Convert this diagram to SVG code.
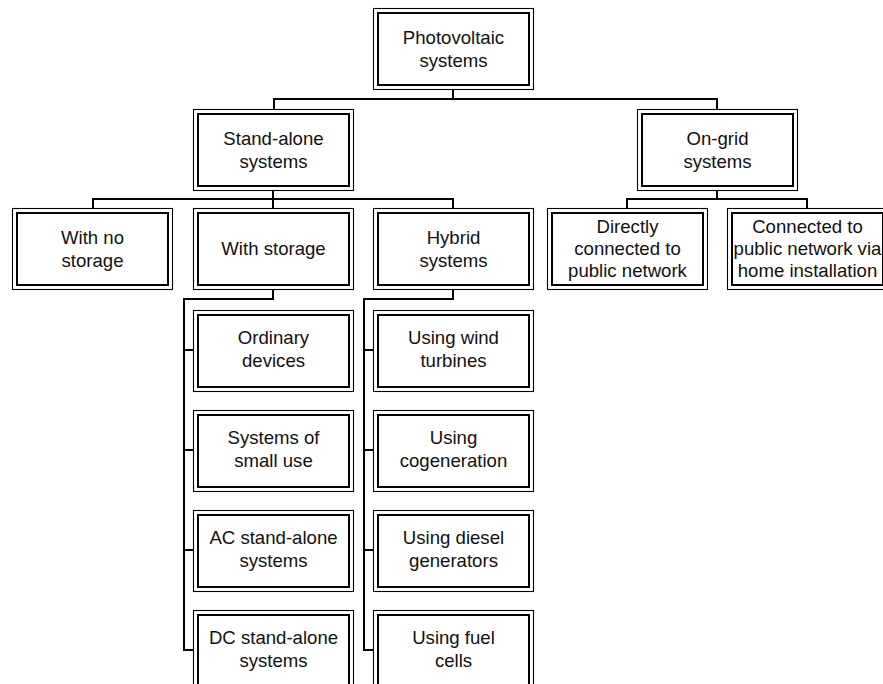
<svg xmlns="http://www.w3.org/2000/svg" width="883" height="684" viewBox="0 0 883 684">
<style>
.o{fill:#fff;stroke:#000;stroke-width:1.1}
.i{fill:none;stroke:#000;stroke-width:2}
.t{font-family:"Liberation Sans",Arial,sans-serif;font-size:18.6px;fill:#111;text-anchor:middle}
.c{fill:none;stroke:#000;stroke-width:2}
</style>
<defs>
<g id="box">
<rect class="o" x="0.5" y="0.5" width="160" height="81"/>
<rect class="i" x="5" y="5" width="151" height="72"/>
</g>
</defs>
<rect width="883" height="684" fill="#fff"/>
<g id="connectors">
<path class="c" d="M453 90V99M273 99H718M274 99V109M717 99V109"/>
<path class="c" d="M273 190V199M92 199H454M93 199V208M273 199V208M453 199V208"/>
<path class="c" d="M717 190V199M626 199H808M627 199V208M807 199V208"/>
<path class="c" d="M273 290V299H184V650H193M184 350H193M184 450H193M184 550H193"/>
<path class="c" d="M453 290V299H364V650H373M364 350H373M364 450H373M364 550H373"/>
</g>
<g id="n-root" transform="translate(373,8)"><use href="#box"/><text class="t" x="80.5" y="36">Photovoltaic</text><text class="t" x="80.5" y="59">systems</text></g>
<g id="n-standalone" transform="translate(193,109)"><use href="#box"/><text class="t" x="80.5" y="36">Stand-alone</text><text class="t" x="80.5" y="59">systems</text></g>
<g id="n-ongrid" transform="translate(637,109)"><use href="#box"/><text class="t" x="80.5" y="36">On-grid</text><text class="t" x="80.5" y="59">systems</text></g>
<g id="n-nostorage" transform="translate(12,208)"><use href="#box"/><text class="t" x="80.5" y="36">With no</text><text class="t" x="80.5" y="59">storage</text></g>
<g id="n-withstorage" transform="translate(193,208)"><use href="#box"/><text class="t" x="80.5" y="47">With storage</text></g>
<g id="n-hybrid" transform="translate(373,208)"><use href="#box"/><text class="t" x="80.5" y="36">Hybrid</text><text class="t" x="80.5" y="59">systems</text></g>
<g id="n-direct" transform="translate(547,208)"><use href="#box"/><text class="t" x="80.5" y="25">Directly</text><text class="t" x="80.5" y="47">connected to</text><text class="t" x="80.5" y="69">public network</text></g>
<g id="n-home" transform="translate(727,208)"><use href="#box"/><text class="t" x="80.5" y="25">Connected to</text><text class="t" x="80.5" y="47">public network via</text><text class="t" x="80.5" y="69">home installation</text></g>
<g id="n-ordinary" transform="translate(193,310)"><use href="#box"/><text class="t" x="80.5" y="34">Ordinary</text><text class="t" x="80.5" y="57">devices</text></g>
<g id="n-smalluse" transform="translate(193,410)"><use href="#box"/><text class="t" x="80.5" y="34">Systems of</text><text class="t" x="80.5" y="57">small use</text></g>
<g id="n-ac" transform="translate(193,510)"><use href="#box"/><text class="t" x="80.5" y="34">AC stand-alone</text><text class="t" x="80.5" y="57">systems</text></g>
<g id="n-dc" transform="translate(193,610)"><use href="#box"/><text class="t" x="80.5" y="34">DC stand-alone</text><text class="t" x="80.5" y="57">systems</text></g>
<g id="n-wind" transform="translate(373,310)"><use href="#box"/><text class="t" x="80.5" y="34">Using wind</text><text class="t" x="80.5" y="57">turbines</text></g>
<g id="n-cogen" transform="translate(373,410)"><use href="#box"/><text class="t" x="80.5" y="34">Using</text><text class="t" x="80.5" y="57">cogeneration</text></g>
<g id="n-diesel" transform="translate(373,510)"><use href="#box"/><text class="t" x="80.5" y="34">Using diesel</text><text class="t" x="80.5" y="57">generators</text></g>
<g id="n-fuel" transform="translate(373,610)"><use href="#box"/><text class="t" x="80.5" y="34">Using fuel</text><text class="t" x="80.5" y="57">cells</text></g>
</svg>
